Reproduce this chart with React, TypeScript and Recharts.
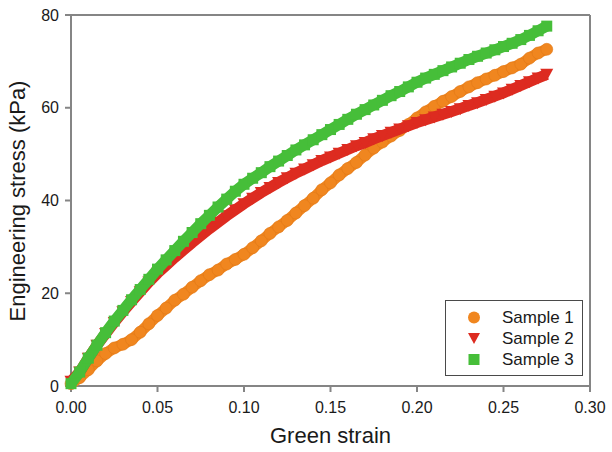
import {
  ScatterChart,
  Scatter,
  XAxis,
  YAxis,
  Legend,
  ReferenceLine,
} from "recharts";

// strain values shared by all three samples
const strain = [
  0, 0.005, 0.01, 0.015, 0.02, 0.025, 0.03, 0.035, 0.04, 0.045,
  0.05, 0.055, 0.06, 0.065, 0.07, 0.075, 0.08, 0.085, 0.09, 0.095,
  0.1, 0.105, 0.11, 0.115, 0.12, 0.125, 0.13, 0.135, 0.14, 0.145,
  0.15, 0.155, 0.16, 0.165, 0.17, 0.175, 0.18, 0.185, 0.19, 0.195,
  0.2, 0.205, 0.21, 0.215, 0.22, 0.225, 0.23, 0.235, 0.24, 0.245,
  0.25, 0.255, 0.26, 0.265, 0.27, 0.275,
];

const sample1 = [
  0.5, 1.8, 3.5, 5.4, 7, 8.2, 9, 10, 11.6, 13.4,
  15.2, 16.8, 18.5, 19.8, 21.3, 22.7, 24, 25, 26.3, 27.3,
  28.4, 29.8, 31.3, 32.9, 34.3, 35.7, 37.3, 38.9, 40.5, 42.3,
  43.8, 45.5, 46.9, 48.2, 49.8, 51.3, 52.6, 53.9, 55.1, 56.4,
  57.8, 59.1, 60.3, 61.4, 62.4, 63.5, 64.5, 65.4, 66.2, 67,
  67.8, 68.6, 69.4, 70.7, 71.8, 72.6,
];

const sample2 = [
  1, 3, 6, 8.8, 11.3, 13.7, 16, 18.2, 20.3, 22.4,
  24.3, 26, 27.7, 29.3, 30.9, 32.4, 33.9, 35.3, 36.7, 38,
  39.3, 40.5, 41.7, 42.8, 43.9, 44.9, 45.9, 46.8, 47.7, 48.6,
  49.4, 50.2, 51, 51.8, 52.5, 53.3, 54, 54.7, 55.4, 56.1,
  56.8, 57.4, 58, 58.6, 59.2, 59.8, 60.5, 61.1, 61.8, 62.5,
  63.2, 64, 64.8, 65.6, 66.4, 67.2,
];

const sample3 = [
  0.5, 3, 6, 8.8, 11.5, 14, 16.3, 18.6, 20.8, 23,
  25.2, 27.2, 29.2, 31.2, 33.1, 35, 36.8, 38.6, 40.3, 42,
  43.5, 44.8, 46, 47.3, 48.5, 49.7, 50.9, 52, 53.1, 54.2,
  55.3, 56.4, 57.5, 58.6, 59.6, 60.6, 61.6, 62.6, 63.5, 64.5,
  65.5, 66.4, 67.2, 68, 68.8, 69.6, 70.4, 71.1, 71.8, 72.5,
  73.2, 73.9, 74.7, 75.6, 76.6, 77.6,
];

const xTicks = [0, 0.05, 0.1, 0.15, 0.2, 0.25, 0.3];
const yTicks = [0, 20, 40, 60, 80];

const toPoints = (ys: number[]) => strain.map((x, i) => ({ x, y: ys[i] }));

const COLORS = {
  s1: "#F0861F",
  s2: "#DD2B20",
  s3: "#46BE39",
};

const AXIS = "#858585";
const FONT = "'Liberation Sans', Arial, sans-serif";

const Circle = (props: any) => {
  const { cx, cy, fill } = props;
  return <circle cx={cx} cy={cy} r={6} fill={fill} stroke="#E07818" strokeWidth={0.6} />;
};

const TriangleDown = (props: any) => {
  const { cx, cy, fill } = props;
  return (
    <polygon
      points={`${cx - 6.5},${cy - 5.5} ${cx + 6.5},${cy - 5.5} ${cx},${cy + 6.5}`}
      fill={fill}
    />
  );
};

const Square = (props: any) => {
  const { cx, cy, fill } = props;
  return <rect x={cx - 5.5} y={cy - 5.5} width={11} height={11} fill={fill} />;
};

const legendItems = [
  { name: "Sample 1", color: COLORS.s1, kind: "circle" },
  { name: "Sample 2", color: COLORS.s2, kind: "tri" },
  { name: "Sample 3", color: COLORS.s3, kind: "square" },
];

const renderLegend = () => (
  <div
    style={{
      width: 138,
      height: 76,
      boxSizing: "border-box",
      border: "1.5px solid #4a4a4a",
      background: "#fff",
      paddingTop: 6,
      fontFamily: FONT,
      fontSize: 17,
      color: "#1a1a1a",
    }}
  >
    {legendItems.map((it) => (
      <div key={it.name} style={{ display: "flex", alignItems: "center", height: 21 }}>
        <svg width={56} height={21}>
          {it.kind === "circle" && <circle cx={28} cy={10.5} r={6} fill={it.color} />}
          {it.kind === "tri" && (
            <polygon points="22,5 34,5 28,16" fill={it.color} />
          )}
          {it.kind === "square" && <rect x={22.5} y={5} width={11} height={11} fill={it.color} />}
        </svg>
        <span>{it.name}</span>
      </div>
    ))}
  </div>
);

const YTitle = () => (
  <text
    x={17}
    y={201}
    transform="rotate(-90 17 201)"
    textAnchor="middle"
    dominantBaseline="central"
    fontSize={22}
    fontFamily={FONT}
    fill="#1a1a1a"
  >
    Engineering stress (kPa)
  </text>
);

export default function App() {
  return (
    <div style={{ position: "absolute", left: 0, top: 0, background: "#fff" }}>
      <ScatterChart
        width={612}
        height={452}
        margin={{ top: 15, right: 22, left: 0, bottom: 0 }}
      >
        <XAxis
          type="number"
          dataKey="x"
          domain={[0, 0.3]}
          ticks={xTicks}
          tickFormatter={(v: number) => v.toFixed(2)}
          height={66}
          stroke={AXIS}
          strokeWidth={2}
          tickSize={6}
          tickMargin={10}
          tick={{ fill: "#1a1a1a", fontSize: 16, fontFamily: FONT }}
          label={{
            value: "Green strain",
            position: "insideBottom",
            offset: 9,
            fill: "#1a1a1a",
            fontSize: 22,
            fontFamily: FONT,
          }}
        />
        <YAxis
          type="number"
          dataKey="y"
          domain={[0, 80]}
          ticks={yTicks}
          width={71}
          stroke={AXIS}
          strokeWidth={2}
          tickSize={6}
          tickMargin={6}
          tick={{ fill: "#1a1a1a", fontSize: 16, fontFamily: FONT }}
          label={{ content: YTitle }}
        />
        <ReferenceLine y={80} stroke={AXIS} strokeWidth={2} />
        <ReferenceLine x={0.3} stroke={AXIS} strokeWidth={2} />
        <Scatter
          name="Sample 1"
          data={toPoints(sample1)}
          fill={COLORS.s1}
          line={{ stroke: COLORS.s1, strokeWidth: 11 }}
          shape={Circle}
          isAnimationActive={false}
        />
        <Scatter
          name="Sample 2"
          data={toPoints(sample2)}
          fill={COLORS.s2}
          line={{ stroke: COLORS.s2, strokeWidth: 11 }}
          shape={TriangleDown}
          isAnimationActive={false}
        />
        <Scatter
          name="Sample 3"
          data={toPoints(sample3)}
          fill={COLORS.s3}
          line={{ stroke: COLORS.s3, strokeWidth: 11 }}
          shape={Square}
          isAnimationActive={false}
        />
        <Legend
          layout="vertical"
          align="center"
          verticalAlign="middle"
          content={renderLegend}
          wrapperStyle={{ left: 445, top: 300, width: 138, height: 76 }}
        />
      </ScatterChart>
    </div>
  );
}
